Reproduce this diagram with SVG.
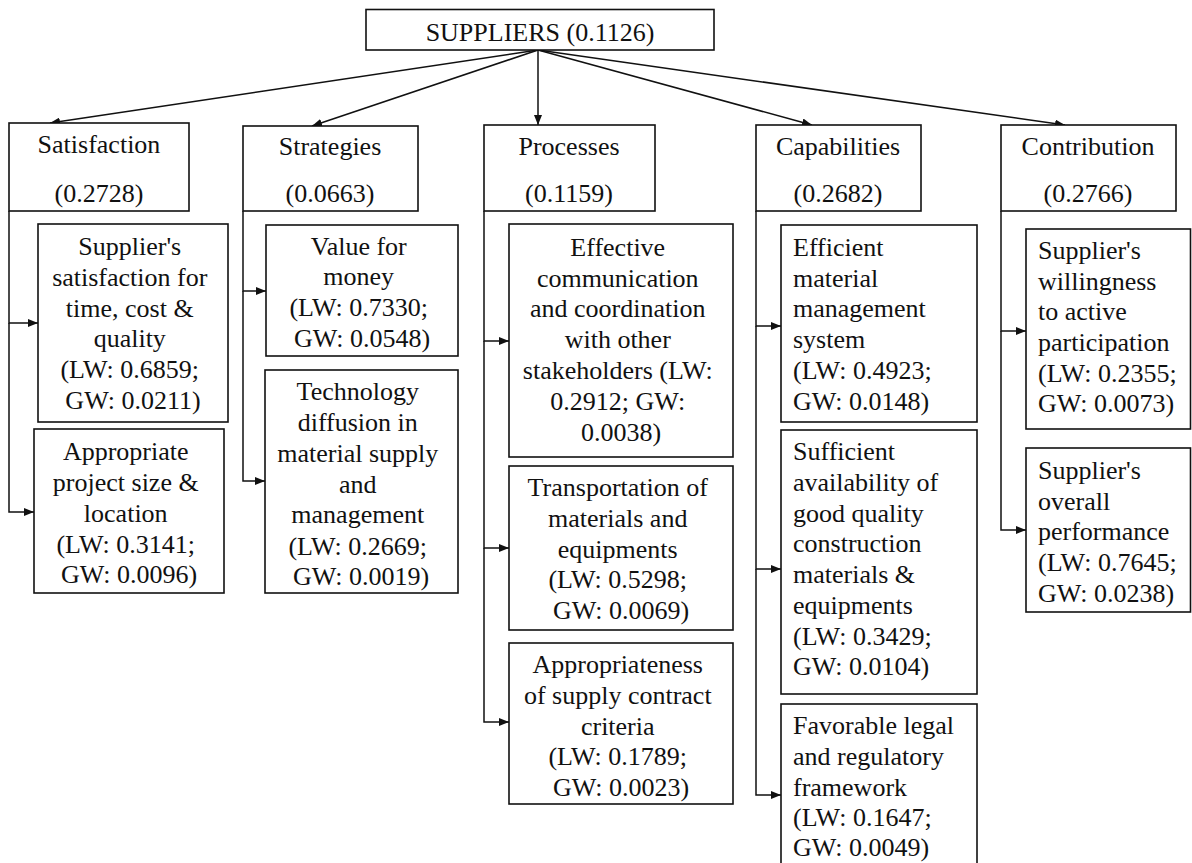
<svg xmlns="http://www.w3.org/2000/svg" width="1192" height="863" viewBox="0 0 1192 863">
  <style>
    .box { fill: #ffffff; stroke: #111111; stroke-width: 1.6; }
    .lnk { fill: none; stroke: #111111; stroke-width: 1.5; }
    .t { font-family: 'Liberation Serif', 'Times New Roman', serif; font-size: 26px; fill: #111111; }
    .c { text-anchor: middle; }
    .l { text-anchor: start; }
  </style>
  <defs>
    <marker id="ah" markerWidth="10" markerHeight="8" refX="10" refY="4" orient="auto" markerUnits="userSpaceOnUse">
      <path d="M0,0 L10,4 L0,8 z" fill="#111111"/>
    </marker>
  </defs>
  <rect width="1192" height="863" fill="#ffffff"/>

  <!-- connectors -->
  <g id="connectors" class="lnk" marker-end="url(#ah)">
    <!-- root to criteria -->
    <path d="M538,50 L50,123"/>
    <path d="M538,50 L312,126"/>
    <path d="M538,50 L538,125"/>
    <path d="M538,50 L812,125"/>
    <path d="M538,50 L1065,125"/>
    <!-- Satisfaction -->
    <path d="M9,211 L9,323 L38,323"/>
    <path d="M9,323 L9,512 L34,512"/>
    <!-- Strategies -->
    <path d="M243,211 L243,291 L266,291"/>
    <path d="M243,291 L243,481 L265,481"/>
    <!-- Processes -->
    <path d="M484,211 L484,341 L509,341"/>
    <path d="M484,341 L484,548 L509,548"/>
    <path d="M484,548 L484,722 L509,722"/>
    <!-- Capabilities -->
    <path d="M756,211 L756,326 L781,326"/>
    <path d="M756,326 L756,569 L781,569"/>
    <path d="M756,569 L756,795 L781,795"/>
    <!-- Contribution -->
    <path d="M1001,211 L1001,331 L1026,331"/>
    <path d="M1001,331 L1001,530 L1026,530"/>
  </g>

  <!-- root -->
  <g id="suppliers">
    <rect class="box" x="366" y="9.5" width="348" height="40.5"/>
    <text class="t c" x="540" y="41">SUPPLIERS (0.1126)</text>
  </g>

  <!-- criteria -->
  <g id="satisfaction">
    <rect class="box" x="9" y="123" width="180" height="88"/>
    <text class="t c" x="99" y="153">Satisfaction</text>
    <text class="t c" x="99" y="202">(0.2728)</text>
  </g>
  <g id="strategies">
    <rect class="box" x="243" y="126" width="175" height="85"/>
    <text class="t c" x="330" y="155">Strategies</text>
    <text class="t c" x="330" y="202">(0.0663)</text>
  </g>
  <g id="processes">
    <rect class="box" x="484" y="125" width="171" height="86"/>
    <text class="t c" x="569" y="155">Processes</text>
    <text class="t c" x="569" y="202">(0.1159)</text>
  </g>
  <g id="capabilities">
    <rect class="box" x="756" y="125" width="165" height="86"/>
    <text class="t c" x="838" y="155">Capabilities</text>
    <text class="t c" x="838" y="202">(0.2682)</text>
  </g>
  <g id="contribution">
    <rect class="box" x="1001" y="125" width="175" height="86"/>
    <text class="t c" x="1088" y="155">Contribution</text>
    <text class="t c" x="1088" y="202">(0.2766)</text>
  </g>

  <!-- Satisfaction sub-criteria -->
  <g id="sat-time-cost-quality">
    <rect class="box" x="38" y="224" width="190" height="198"/>
    <text class="t c">
      <tspan x="133" y="255">Supplier's</tspan>
      <tspan x="133" y="286">satisfaction for</tspan>
      <tspan x="133" y="317">time, cost &amp;</tspan>
      <tspan x="133" y="347">quality</tspan>
      <tspan x="133" y="378">(LW: 0.6859;</tspan>
      <tspan x="133" y="409">GW: 0.0211)</tspan>
    </text>
  </g>
  <g id="sat-project-size">
    <rect class="box" x="34" y="429" width="190" height="164"/>
    <text class="t c">
      <tspan x="129" y="460">Appropriate</tspan>
      <tspan x="129" y="491">project size &amp;</tspan>
      <tspan x="129" y="522">location</tspan>
      <tspan x="129" y="553">(LW: 0.3141;</tspan>
      <tspan x="129" y="583">GW: 0.0096)</tspan>
    </text>
  </g>

  <!-- Strategies sub-criteria -->
  <g id="str-value">
    <rect class="box" x="266" y="225" width="192" height="131"/>
    <text class="t c">
      <tspan x="362" y="255">Value for</tspan>
      <tspan x="362" y="285">money</tspan>
      <tspan x="362" y="316">(LW: 0.7330;</tspan>
      <tspan x="362" y="347">GW: 0.0548)</tspan>
    </text>
  </g>
  <g id="str-technology">
    <rect class="box" x="265" y="370" width="193" height="223"/>
    <text class="t c">
      <tspan x="361" y="400">Technology</tspan>
      <tspan x="361" y="431">diffusion in</tspan>
      <tspan x="361" y="462">material supply</tspan>
      <tspan x="361" y="493">and</tspan>
      <tspan x="361" y="523">management</tspan>
      <tspan x="361" y="555">(LW: 0.2669;</tspan>
      <tspan x="361" y="585">GW: 0.0019)</tspan>
    </text>
  </g>

  <!-- Processes sub-criteria -->
  <g id="pro-communication">
    <rect class="box" x="509" y="224" width="224" height="233"/>
    <text class="t c">
      <tspan x="621" y="256">Effective</tspan>
      <tspan x="621" y="287">communication</tspan>
      <tspan x="621" y="317">and coordination</tspan>
      <tspan x="621" y="348">with other</tspan>
      <tspan x="621" y="379">stakeholders (LW:</tspan>
      <tspan x="621" y="410">0.2912; GW:</tspan>
      <tspan x="621" y="441">0.0038)</tspan>
    </text>
  </g>
  <g id="pro-transportation">
    <rect class="box" x="509" y="466" width="224" height="164"/>
    <text class="t c">
      <tspan x="621" y="496">Transportation of</tspan>
      <tspan x="621" y="527">materials and</tspan>
      <tspan x="621" y="558">equipments</tspan>
      <tspan x="621" y="588">(LW: 0.5298;</tspan>
      <tspan x="621" y="619">GW: 0.0069)</tspan>
    </text>
  </g>
  <g id="pro-contract">
    <rect class="box" x="509" y="643" width="224" height="161"/>
    <text class="t c">
      <tspan x="621" y="673">Appropriateness</tspan>
      <tspan x="621" y="704">of supply contract</tspan>
      <tspan x="621" y="735">criteria</tspan>
      <tspan x="621" y="765">(LW: 0.1789;</tspan>
      <tspan x="621" y="796">GW: 0.0023)</tspan>
    </text>
  </g>

  <!-- Capabilities sub-criteria -->
  <g id="cap-material-management">
    <rect class="box" x="781" y="225" width="196" height="197"/>
    <text class="t l">
      <tspan x="793" y="256">Efficient</tspan>
      <tspan x="793" y="287">material</tspan>
      <tspan x="793" y="317">management</tspan>
      <tspan x="793" y="348">system</tspan>
      <tspan x="793" y="379">(LW: 0.4923;</tspan>
      <tspan x="793" y="410">GW: 0.0148)</tspan>
    </text>
  </g>
  <g id="cap-availability">
    <rect class="box" x="781" y="430" width="196" height="264"/>
    <text class="t l">
      <tspan x="793" y="460">Sufficient</tspan>
      <tspan x="793" y="491">availability of</tspan>
      <tspan x="793" y="522">good quality</tspan>
      <tspan x="793" y="552">construction</tspan>
      <tspan x="793" y="583">materials &amp;</tspan>
      <tspan x="793" y="614">equipments</tspan>
      <tspan x="793" y="645">(LW: 0.3429;</tspan>
      <tspan x="793" y="675">GW: 0.0104)</tspan>
    </text>
  </g>
  <g id="cap-legal">
    <rect class="box" x="781" y="704" width="196" height="170"/>
    <text class="t l">
      <tspan x="793" y="734">Favorable legal</tspan>
      <tspan x="793" y="765">and regulatory</tspan>
      <tspan x="793" y="796">framework</tspan>
      <tspan x="793" y="826">(LW: 0.1647;</tspan>
      <tspan x="793" y="856">GW: 0.0049)</tspan>
    </text>
  </g>

  <!-- Contribution sub-criteria -->
  <g id="con-willingness">
    <rect class="box" x="1026" y="229" width="164.5" height="200"/>
    <text class="t l">
      <tspan x="1038" y="259">Supplier's</tspan>
      <tspan x="1038" y="290">willingness</tspan>
      <tspan x="1038" y="320">to active</tspan>
      <tspan x="1038" y="351">participation</tspan>
      <tspan x="1038" y="382">(LW: 0.2355;</tspan>
      <tspan x="1038" y="412">GW: 0.0073)</tspan>
    </text>
  </g>
  <g id="con-performance">
    <rect class="box" x="1026" y="448" width="164.5" height="164"/>
    <text class="t l">
      <tspan x="1038" y="479">Supplier's</tspan>
      <tspan x="1038" y="510">overall</tspan>
      <tspan x="1038" y="540">performance</tspan>
      <tspan x="1038" y="571">(LW: 0.7645;</tspan>
      <tspan x="1038" y="602">GW: 0.0238)</tspan>
    </text>
  </g>
</svg>
